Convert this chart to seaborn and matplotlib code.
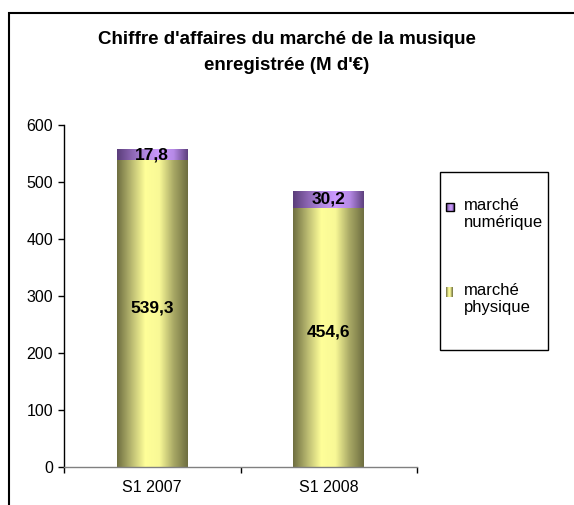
import numpy as np
import pandas as pd
import matplotlib
matplotlib.use("Agg")
import matplotlib.pyplot as plt
import seaborn as sns
from matplotlib.colors import LinearSegmentedColormap
from matplotlib.patches import Rectangle

periods = ["S1 2007", "S1 2008"]
physique = [539.3, 454.6]
numerique = [17.8, 30.2]
labels_phys = ["539,3", "454,6"]
labels_num = ["17,8", "30,2"]
legend_labels = ["marché\nnumérique", "marché\nphysique"]

df = pd.DataFrame({"periode": periods, "physique": physique, "numerique": numerique})
df["total"] = df["physique"] + df["numerique"]

sns.set_theme(style="white")
plt.rcParams["font.family"] = ["Liberation Sans", "DejaVu Sans"]
plt.rcParams["text.color"] = "black"

fig = plt.figure(figsize=(5.74, 5.05), dpi=100)
ax = fig.add_axes([64 / 574, 38 / 505, 353 / 574, 342 / 505])

sns.barplot(data=df, x="periode", y="total", color="#a080d0", width=0.4, ax=ax,
            saturation=1, linewidth=0)
sns.barplot(data=df, x="periode", y="physique", color="#f0f090", width=0.4, ax=ax,
            saturation=1, linewidth=0)

yellow = LinearSegmentedColormap.from_list(
    "y", ["#6e6e40", "#b8b870", "#ffff99", "#f8f896", "#a8a865", "#6e6e40"])
purple = LinearSegmentedColormap.from_list(
    "p", ["#5a3d7a", "#8a64b0", "#b088e0", "#cc99ff", "#b68ae6", "#5e407e"])
grad = np.linspace(0, 1, 256).reshape(1, -1)

n = len(periods)
for i, p in enumerate(ax.patches):
    cmap = purple if i < n else yellow
    x0, y0 = p.get_x(), p.get_y()
    w, h = p.get_width(), p.get_height()
    im = ax.imshow(grad, cmap=cmap, aspect="auto", extent=[x0, x0 + w, y0, y0 + h],
                   zorder=p.get_zorder() + 0.1)
    im.set_clip_path(p)

ax.set_xlim(-0.5, 1.5)
ax.set_ylim(0, 600)
ax.set_yticks(range(0, 601, 100))
ax.set_xlabel("")
ax.set_ylabel("")
ax.set_xticks([0.5, -0.5, 1.5], minor=True)
ax.tick_params(axis="x", which="major", length=0, labelsize=11.5, pad=9, colors="black")
ax.tick_params(axis="x", which="minor", length=4, width=1, color="black", direction="out",
               bottom=True)
ax.tick_params(axis="y", length=4, width=1, labelsize=11.5, direction="out", left=True,
               colors="black", pad=4)
sns.despine(ax=ax, top=True, right=True)
ax.spines["left"].set_color("black")
ax.spines["left"].set_linewidth(1)
ax.spines["bottom"].set_color("#808080")
ax.spines["bottom"].set_linewidth(1)

for i in range(n):
    ax.text(i, physique[i] + numerique[i] / 2, labels_num[i], ha="center", va="center",
            fontsize=12.5, fontweight="bold", color="black", zorder=10)
    ax.text(i, physique[i] / 2 + 10, labels_phys[i], ha="center", va="center",
            fontsize=12.5, fontweight="bold", color="black", zorder=10)

# legend box drawn by hand (handle aligned with the first text line, like Excel)
W, H = 574, 505
fig.patches.append(Rectangle((440 / W, 1 - 350 / H), 108 / W, 178 / H,
                             transform=fig.transFigure, fill=False,
                             edgecolor="black", linewidth=1))
legend_y = [207, 292]
legend_cmaps = [purple, yellow]
for lab, yy, cm in zip(legend_labels, legend_y, legend_cmaps):
    if cm is purple:
        x0, y0, sw, sh = 446 / W, 1 - (yy + 4) / H, 8 / W, 8 / H
    else:
        x0, y0, sw, sh = 446 / W, 1 - (yy + 5) / H, 6 / W, 10 / H
    sq = Rectangle((x0, y0), sw, sh, transform=fig.transFigure, fill=False,
                   edgecolor="black" if cm is purple else "none", linewidth=1, zorder=5)
    fig.patches.append(sq)
    img = fig.add_axes([x0, y0, sw, sh])
    img.imshow(grad, cmap=cm, aspect="auto")
    img.set_axis_off()
    fig.text(464 / W, 1 - (yy - 9) / H, lab, ha="left", va="top", fontsize=12,
             linespacing=1.2)

fig.text(0.5, 1 - 40 / H, "Chiffre d'affaires du marché de la musique",
         ha="center", va="center", fontsize=13.5, fontweight="bold")
fig.text(0.5, 1 - 65 / H, "enregistrée (M d'€)",
         ha="center", va="center", fontsize=13.5, fontweight="bold")

fig.patches.append(Rectangle((9 / W, -0.1), 1.2, 1 - 13 / H + 0.1,
                             transform=fig.transFigure, fill=False,
                             edgecolor="black", linewidth=1.5))

fig.savefig("out.png", dpi=100)
